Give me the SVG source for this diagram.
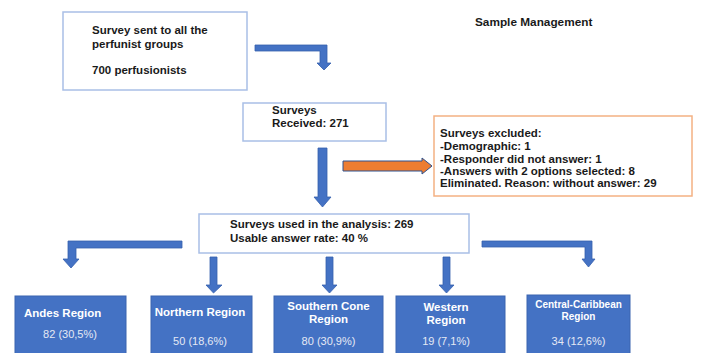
<svg xmlns="http://www.w3.org/2000/svg" width="709" height="353" viewBox="0 0 709 353">
<style>
.t{font-family:"Liberation Sans",Arial,sans-serif;font-weight:bold;font-size:11.5px;fill:#1a1a1a}
.w{font-family:"Liberation Sans",Arial,sans-serif;font-weight:bold;font-size:11.5px;fill:#ffffff}
.n{font-family:"Liberation Sans",Arial,sans-serif;font-size:11px;fill:#e4e9f4}
.box{fill:#ffffff;stroke:#a9bfe6;stroke-width:1.5}
.obox{fill:#ffffff;stroke:#f4b183;stroke-width:1.5}
.reg{fill:#4472c4;stroke:#3a64b0;stroke-width:1}
.arr{fill:#4472c4;stroke:#3560ad;stroke-width:0.8}
.oarr{fill:#ed7d31;stroke:#2f528f;stroke-width:1}
</style>
<rect width="709" height="353" fill="#ffffff"/>
<text class="t" x="475" y="26" style="font-size:11.8px">Sample Management</text>
<g id="sent">
<rect class="box" x="63" y="12" width="184" height="78"/>
<text class="t" x="92" y="34">Survey sent to all the</text>
<text class="t" x="92" y="48">perfunist groups</text>
<text class="t" x="92" y="74">700 perfusionists</text>
</g>
<g id="received">
<rect class="box" x="243" y="103" width="143" height="38"/>
<text class="t" x="272" y="114">Surveys</text>
<text class="t" x="272" y="127">Received: 271</text>
</g>
<g id="excluded">
<rect class="obox" x="434" y="116" width="258" height="80"/>
<text class="t" x="440" y="137">Surveys excluded:</text>
<text class="t" x="440" y="150">-Demographic: 1</text>
<text class="t" x="440" y="163">-Responder did not answer: 1</text>
<text class="t" x="440" y="175">-Answers with 2 options selected: 8</text>
<text class="t" x="440" y="187">Eliminated. Reason: without answer: 29</text>
</g>
<g id="used">
<rect class="box" x="199" y="214" width="270" height="39"/>
<text class="t" x="230" y="228">Surveys used in the analysis: 269</text>
<text class="t" x="230" y="242">Usable answer rate: 40 %</text>
</g>
<g id="andes">
<rect class="reg" x="15" y="296" width="111" height="70"/>
<text class="w" x="24" y="317">Andes Region</text>
<text class="n" x="70" y="338" text-anchor="middle">82 (30,5%)</text>
</g>
<g id="northern">
<rect class="reg" x="151" y="296" width="101" height="70"/>
<text class="w" x="200" y="316" text-anchor="middle">Northern Region</text>
<text class="n" x="200" y="345" text-anchor="middle">50 (18,6%)</text>
</g>
<g id="southern">
<rect class="reg" x="274" y="296" width="109" height="70"/>
<text class="w" x="328.5" y="310" text-anchor="middle">Southern Cone</text>
<text class="w" x="328.5" y="323" text-anchor="middle">Region</text>
<text class="n" x="328.5" y="345" text-anchor="middle">80 (30,9%)</text>
</g>
<g id="western">
<rect class="reg" x="396" y="296" width="109" height="70"/>
<text class="w" x="446" y="311" text-anchor="middle">Western</text>
<text class="w" x="446" y="324" text-anchor="middle">Region</text>
<text class="n" x="446" y="345" text-anchor="middle">19 (7,1%)</text>
</g>
<g id="central">
<rect class="reg" x="527" y="295" width="103" height="70"/>
<text class="w" x="578.5" y="308" text-anchor="middle" style="font-size:10px">Central-Caribbean</text>
<text class="w" x="578.5" y="320" text-anchor="middle" style="font-size:10px">Region</text>
<text class="n" x="578.5" y="345" text-anchor="middle">34 (12,6%)</text>
</g>
<g id="connectors">
<polygon class="arr" points="255,45 327,45 327,63 331,63 324,70 317,63 320,63 320,51 255,51"/>
<polygon class="arr" points="318,148 327,148 327,197 331,197 322.5,207 314,197 318,197"/>
<polygon class="oarr" points="343,161 422,161 422,158 432,166 422,174 422,171 343,171"/>
<polygon class="arr" points="182,241 68,241 68,259 63,259 71,268 79,259 76,259 76,248 182,248"/>
<polygon class="arr" points="210,257 217,257 217,285 222,285 213.5,293 206,285 210,285"/>
<polygon class="arr" points="326,257 333,257 333,285 337,285 329.5,293 322,285 326,285"/>
<polygon class="arr" points="443,257 450,257 450,285 454,285 446.5,293 439,285 443,285"/>
<polygon class="arr" points="482,241 592,241 592,259 595,259 588.5,267 582,259 585,259 585,247 482,247"/>
</g>
</svg>
